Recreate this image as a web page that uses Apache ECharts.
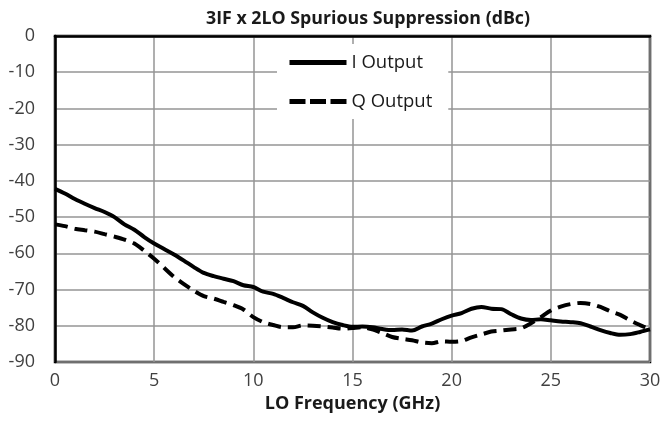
<!DOCTYPE html>
<html>
<head>
<meta charset="utf-8">
<script src="https://cdn.jsdelivr.net/npm/echarts@6/dist/echarts.min.js"></script>
<style>html,body{margin:0;padding:0;background:#fff;}#c{width:664px;height:444px;}</style>
</head>
<body>
<div id="c"></div>
<script>
var freqGHz = [0,0.5,1,1.5,2,2.5,3,3.5,4,4.5,5,5.5,6,6.5,7,7.5,8,8.5,9,9.5,10,10.5,11,11.5,12,12.5,13,13.5,14,14.5,15,15.5,16,16.5,17,17.5,18,18.5,19,19.5,20,20.5,21,21.5,22,22.5,23,23.5,24,24.5,25,25.5,26,26.5,27,27.5,28,28.5,29,29.5,30];
var iOutput = [-42.2,-43.5,-45,-46.3,-47.5,-48.6,-50,-52,-53.5,-55.5,-57.3,-58.8,-60.3,-62,-63.8,-65.4,-66.3,-67,-67.7,-68.8,-69.3,-70.6,-71.2,-72.3,-73.5,-74.5,-76.3,-77.8,-79,-79.8,-80.3,-80.2,-80.4,-80.9,-81.2,-81,-81.3,-80.2,-79.4,-78.2,-77.2,-76.5,-75.3,-74.8,-75.3,-75.4,-76.8,-78,-78.4,-78.2,-78.5,-78.8,-79,-79.3,-80.2,-81.2,-82,-82.5,-82.3,-81.7,-81];
var qOutput = [-52,-52.5,-53.2,-53.6,-54,-54.7,-55.4,-56.2,-57.3,-59.3,-61.5,-64,-66.5,-68.5,-70.3,-71.8,-72.5,-73.4,-74.3,-75.5,-77.6,-79,-79.8,-80.4,-80.4,-79.9,-80,-80.2,-80.5,-80.8,-80.6,-80.4,-81,-82,-83.1,-83.6,-84,-84.6,-84.8,-84.3,-84.4,-84.2,-83.2,-82.4,-81.6,-81.3,-81,-80.7,-79.3,-77.6,-75.8,-74.7,-74,-73.7,-74,-74.8,-76,-77,-78.5,-79.8,-81];
var seriesNames = ['I Output','Q Output'];
var titleText = '3IF x 2LO Spurious Suppression (dBc)';
var xAxisName = 'LO Frequency (GHz)';

function pairs(xs, ys){ return xs.map(function(x,i){ return [x, ys[i]]; }); }

var chart = echarts.init(document.getElementById('c'));
var font = 'Open Sans';
chart.setOption({
  animation: false,
  backgroundColor: '#fff',
  title: {
    text: titleText, left: 368, top: 6, textAlign: 'center', padding: 0,
    textStyle: {fontFamily: font, fontWeight: 'bold', fontSize: 17.8, color: '#1a1a1a', lineHeight: 26}
  },
  legend: {
    orient: 'vertical', left: 277, top: 44,
    backgroundColor: '#fff',
    padding: [7, 16, 6, 10],
    itemWidth: 57, itemHeight: 14, itemGap: 16,
    itemStyle: {opacity: 0},
    textStyle: {fontFamily: font, fontSize: 18.5, color: '#1a1a1a', lineHeight: 23, padding: [0,0,0,0]},
    data: [
      {name: seriesNames[0], lineStyle: {width: 5}},
      {name: seriesNames[1], lineStyle: {width: 5, type: [16, 4.5]}}
    ]
  },
  grid: {
    left: 55, right: 14, top: 36, bottom: 82, show: true,
    borderColor: '#000', borderWidth: 2.5, containLabel: false
  },
  xAxis: {
    type: 'value', min: 0, max: 30, interval: 5,
    name: xAxisName, nameLocation: 'middle', nameGap: 33,
    nameTextStyle: {fontFamily: font, fontWeight: 'bold', fontSize: 18, color: '#1a1a1a'},
    axisLine: {show: true, lineStyle: {color: '#000', width: 2.5}},
    axisTick: {show: false},
    axisLabel: {fontFamily: font, fontSize: 18, color: '#404040', margin: 10},
    splitLine: {show: true, lineStyle: {color: '#949494', width: 1.5}}
  },
  yAxis: {
    type: 'value', min: -90, max: 0, interval: 10,
    axisLine: {show: true, lineStyle: {color: '#000', width: 2.5}},
    axisTick: {show: false},
    axisLabel: {fontFamily: font, fontSize: 18, color: '#404040', margin: 20},
    splitLine: {show: true, lineStyle: {color: '#949494', width: 1.5}}
  },
  series: [
    {
      name: seriesNames[0], type: 'line', data: pairs(freqGHz, iOutput),
      symbol: 'none', smooth: 0.3, z: 3,
      lineStyle: {color: '#000', width: 4},
      itemStyle: {color: '#000'}
    },
    {
      name: seriesNames[1], type: 'line', data: pairs(freqGHz, qOutput),
      symbol: 'none', smooth: 0.3, z: 2,
      lineStyle: {color: '#000', width: 4, type: [13, 7]},
      itemStyle: {color: '#000'}
    }
  ]
});
</script>
</body>
</html>
